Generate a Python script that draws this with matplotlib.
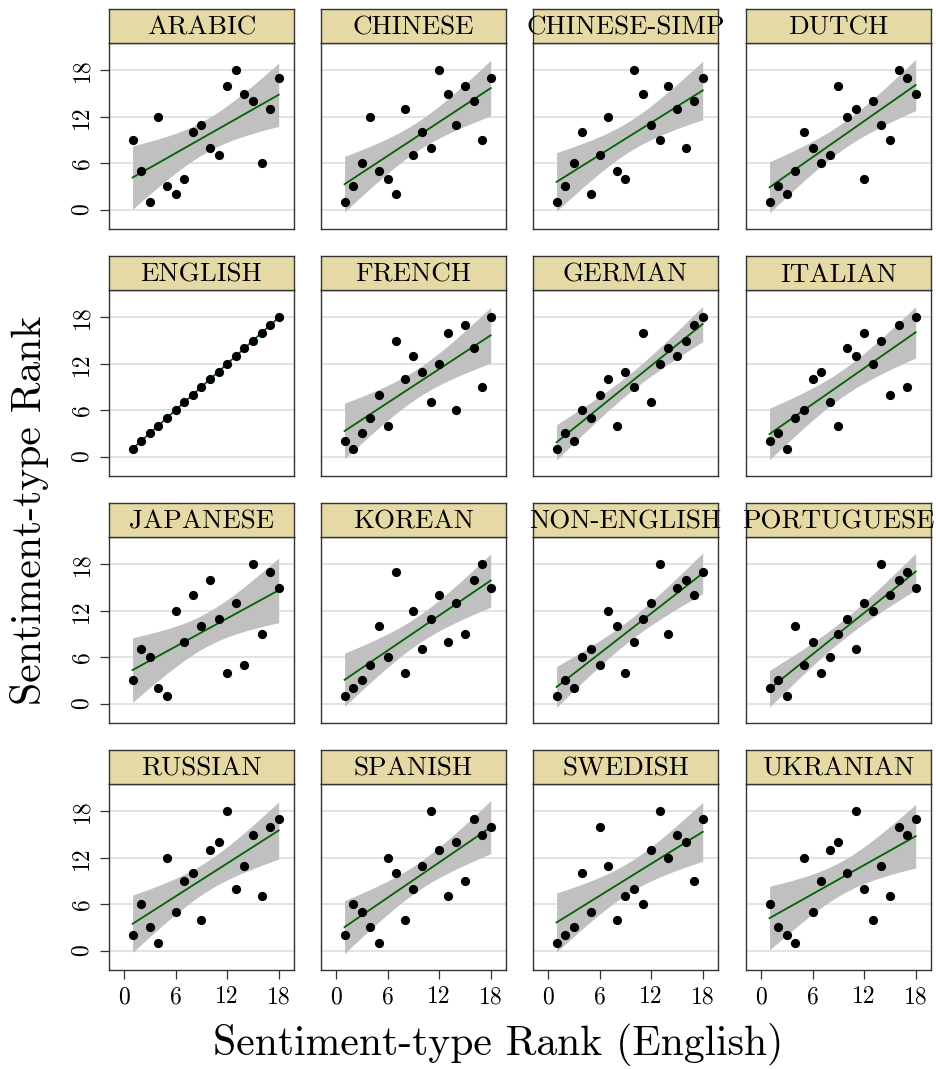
import numpy as np
import matplotlib
matplotlib.use("Agg")
import matplotlib.pyplot as plt

plt.rcParams['font.family'] = ['cmr10', 'DejaVu Serif']
plt.rcParams['axes.formatter.use_mathtext'] = True

languages = ["ARABIC", "CHINESE", "CHINESE-SIMP", "DUTCH",
             "ENGLISH", "FRENCH", "GERMAN", "ITALIAN",
             "JAPANESE", "KOREAN", "NON-ENGLISH", "PORTUGUESE",
             "RUSSIAN", "SPANISH", "SWEDISH", "UKRANIAN"]

# rank in English (x) for every sentiment type
english_rank = np.arange(1, 19)

# rank of the same sentiment types in each language (y)
arabic = [9, 5, 1, 12, 3, 2, 4, 10, 11, 8, 7, 16, 18, 15, 14, 6, 13, 17]
chinese = [1, 3, 6, 12, 5, 4, 2, 13, 7, 10, 8, 18, 15, 11, 16, 14, 9, 17]
chinese_simp = [1, 3, 6, 10, 2, 7, 12, 5, 4, 18, 15, 11, 9, 16, 13, 8, 14, 17]
dutch = [1, 3, 2, 5, 10, 8, 6, 7, 16, 12, 13, 4, 14, 11, 9, 18, 17, 15]
english = list(range(1, 19))
french = [2, 1, 3, 5, 8, 4, 15, 10, 13, 11, 7, 12, 16, 6, 17, 14, 9, 18]
german = [1, 3, 2, 6, 5, 8, 10, 4, 11, 9, 16, 7, 12, 14, 13, 15, 17, 18]
italian = [2, 3, 1, 5, 6, 10, 11, 7, 4, 14, 13, 16, 12, 15, 8, 17, 9, 18]
japanese = [3, 7, 6, 2, 1, 12, 8, 14, 10, 16, 11, 4, 13, 5, 18, 9, 17, 15]
korean = [1, 2, 3, 5, 10, 6, 17, 4, 12, 7, 11, 14, 8, 13, 9, 16, 18, 15]
non_english = [1, 3, 2, 6, 7, 5, 12, 10, 4, 8, 11, 13, 18, 9, 15, 16, 14, 17]
portuguese = [2, 3, 1, 10, 5, 8, 4, 6, 9, 11, 7, 13, 12, 18, 14, 16, 17, 15]
russian = [2, 6, 3, 1, 12, 5, 9, 10, 4, 13, 14, 18, 8, 11, 15, 7, 16, 17]
spanish = [2, 6, 5, 3, 1, 12, 10, 4, 8, 11, 18, 13, 7, 14, 9, 17, 15, 16]
swedish = [1, 2, 3, 10, 5, 16, 11, 4, 7, 8, 6, 13, 18, 12, 15, 14, 9, 17]
ukranian = [6, 3, 2, 1, 12, 5, 9, 13, 14, 10, 18, 8, 4, 11, 7, 16, 15, 17]

ranks = [arabic, chinese, chinese_simp, dutch,
         english, french, german, italian,
         japanese, korean, non_english, portuguese,
         russian, spanish, swedish, ukranian]

ticks = [0, 6, 12, 18]
T_975_DF16 = 2.119905  # t quantile for a 95% band with 16 dof


def lm_band(x, y, xs):
    # ordinary least squares line and its 95% confidence band
    x = np.asarray(x, float)
    y = np.asarray(y, float)
    n = len(x)
    b, a = np.polyfit(x, y, 1)
    resid = y - (a + b * x)
    s = np.sqrt(np.sum(resid ** 2) / (n - 2))
    sxx = np.sum((x - x.mean()) ** 2)
    fit = a + b * xs
    se = s * np.sqrt(1.0 / n + (xs - x.mean()) ** 2 / sxx)
    return fit, fit - T_975_DF16 * se, fit + T_975_DF16 * se


W, H = 937, 1069
fig = plt.figure(figsize=(W / 100, H / 100), dpi=100)

col_left = [109, 321, 533, 746]
row_top = [9, 256, 503, 750]
pw, ph, sh = 185, 186, 34

xs = np.linspace(1, 18, 100)

for k, (lang, yr) in enumerate(zip(languages, ranks)):
    r, c = divmod(k, 4)
    left = col_left[c] / W
    bottom = 1 - (row_top[r] + sh + ph) / H
    ax = fig.add_axes([left, bottom, pw / W, ph / H])

    fit, lo, hi = lm_band(english_rank, yr, xs)
    for yt in ticks:
        ax.axhline(yt, color='#E0E0E0', lw=1.3, zorder=0)
    ax.fill_between(xs, lo, hi, color='#C0C0C0', lw=0, zorder=1)
    ax.plot(xs, fit, color='#006400', lw=1.3, zorder=2)
    ax.scatter(english_rank, yr, s=44, color='black', lw=0, zorder=3)

    ax.set_xlim(-1.74, 19.78)
    ax.set_ylim(-2.52, 21.56)
    ax.set_xticks(ticks)
    ax.set_yticks(ticks)
    for sp in ax.spines.values():
        sp.set_color('#333333')
        sp.set_linewidth(1.0)
    ax.tick_params(length=6.5, width=0.9, color='#333333', labelsize=17, pad=5)
    if c == 0:
        ax.set_yticklabels([str(t) for t in ticks], rotation=90, va='center')
    else:
        ax.tick_params(axis='y', left=False, labelleft=False)
    if r == 3:
        ax.set_xticklabels([str(t) for t in ticks])
    else:
        ax.tick_params(axis='x', bottom=False, labelbottom=False)

    # facet strip
    sax = fig.add_axes([left, 1 - (row_top[r] + sh) / H, pw / W, sh / H])
    sax.set_facecolor('#E5D9A6')
    sax.set_xticks([])
    sax.set_yticks([])
    for sp in sax.spines.values():
        sp.set_color('#333333')
        sp.set_linewidth(1.0)
    sax.text(0.5, 0.45, lang, transform=sax.transAxes, ha='center', va='center',
             fontsize=19.5, clip_on=False)

fig.text(498 / W, 1 - 1045 / H, 'Sentiment-type Rank (English)',
         ha='center', va='center', fontsize=30)
fig.text(30 / W, 1 - 510 / H, 'Sentiment-type Rank',
         ha='center', va='center', rotation=90, fontsize=30)

fig.savefig('out.png', dpi=100)
